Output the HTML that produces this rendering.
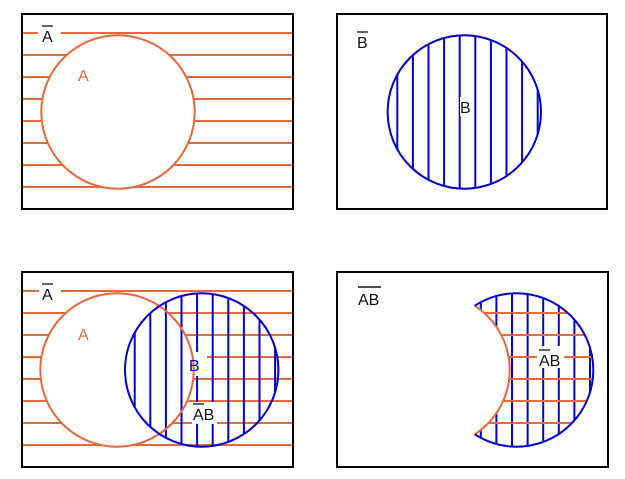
<!DOCTYPE html>
<html><head><meta charset="utf-8"><style>
html,body{margin:0;padding:0;background:#fff;}
svg{display:block;font-family:"Liberation Sans",sans-serif;}
</style></head><body>
<svg id="s" width="625" height="479" viewBox="0 0 625 479" xmlns="http://www.w3.org/2000/svg">
<defs>
<mask id="mTL"><rect x="0" y="0" width="625" height="479" fill="#fff"/><circle cx="118" cy="112" r="76.7" fill="#000"/><rect x="38" y="24" width="23" height="18" fill="#000"/></mask>
<mask id="mBL"><rect x="0" y="0" width="625" height="479" fill="#fff"/><circle cx="117" cy="370" r="76.7" fill="#000"/><rect x="39" y="282" width="22" height="18" fill="#000"/><rect x="187" y="352" width="20" height="24" fill="#000"/><rect x="192" y="402" width="25" height="22" fill="#000"/></mask>
<mask id="mBLv"><rect x="0" y="0" width="625" height="479" fill="#fff"/><rect x="187" y="352" width="20" height="24" fill="#000"/><rect x="192" y="402" width="25" height="22" fill="#000"/></mask>
<mask id="mBR"><rect x="0" y="0" width="625" height="479" fill="#fff"/><circle cx="433" cy="370" r="76.7" fill="#000"/><rect x="537" y="346" width="27" height="22" fill="#000"/></mask>
<mask id="mBRv"><rect x="0" y="0" width="625" height="479" fill="#fff"/><circle cx="433" cy="370" r="76.7" fill="#000"/><rect x="537" y="346" width="27" height="22" fill="#000"/></mask>
<mask id="mBRc"><rect x="0" y="0" width="625" height="479" fill="#fff"/><circle cx="433" cy="370" r="76.7" fill="#000"/></mask>
<clipPath id="cTR"><circle cx="464.3" cy="112" r="76.7"/></clipPath>
<clipPath id="cBL"><circle cx="201.7" cy="370" r="76.7"/></clipPath>
<clipPath id="cBR"><circle cx="516.6" cy="370" r="76.7"/></clipPath>
</defs>

<!-- Panel 1 -->
<g>
<g id="hTL" mask="url(#mTL)" stroke="#e8683d" stroke-width="2"></g>
<circle cx="118" cy="112" r="76.7" fill="none" stroke="#e8683d" stroke-width="2"/>
<rect x="22" y="14" width="271" height="195" fill="none" stroke="#000" stroke-width="2"/>
<text x="42" y="42" font-size="16" fill="#111">A</text>
<line x1="42" y1="26" x2="53" y2="26" stroke="#111" stroke-width="1.3"/>
<text x="78" y="81" font-size="16" fill="#e8683d">A</text>
</g>

<!-- Panel 2 -->
<g>
<g id="vTR" clip-path="url(#cTR)" stroke="#0000d0" stroke-width="2"></g>
<circle cx="464.3" cy="112" r="76.7" fill="none" stroke="#0000d0" stroke-width="2"/>
<rect x="337" y="14" width="270" height="195" fill="none" stroke="#000" stroke-width="2"/>
<text x="357" y="48" font-size="16" fill="#111">B</text>
<line x1="357" y1="32" x2="368" y2="32" stroke="#111" stroke-width="1.3"/>
<rect x="460" y="97" width="13" height="19" fill="#fff"/>
<text x="460" y="113" font-size="16" fill="#111">B</text>
</g>

<!-- Panel 3 -->
<g>
<g id="hBL" mask="url(#mBL)" stroke="#e8683d" stroke-width="2"></g>
<g mask="url(#mBLv)"><g id="vBL" clip-path="url(#cBL)" stroke="#0000d0" stroke-width="2"></g></g>
<circle cx="117" cy="370" r="76.7" fill="none" stroke="#e8683d" stroke-width="2"/>
<circle cx="201.7" cy="370" r="76.7" fill="none" stroke="#0000d0" stroke-width="2"/>
<rect x="22" y="272" width="271" height="195" fill="none" stroke="#000" stroke-width="2"/>
<text x="42" y="300" font-size="16" fill="#111">A</text>
<line x1="42" y1="284" x2="53" y2="284" stroke="#111" stroke-width="1.3"/>
<text x="78" y="340" font-size="16" fill="#e8683d">A</text>
<text x="189" y="371" font-size="16" fill="#0000d0">B</text>
<text x="193" y="420" font-size="16" fill="#111">AB</text>
<line x1="193" y1="404" x2="204" y2="404" stroke="#111" stroke-width="1.3"/>
</g>

<!-- Panel 4 -->
<g>
<g mask="url(#mBRv)"><g id="vBR" clip-path="url(#cBR)" stroke="#0000d0" stroke-width="2"></g></g>
<g mask="url(#mBR)"><g id="hBR" clip-path="url(#cBR)" stroke="#e8683d" stroke-width="2"></g></g>
<g clip-path="url(#cBR)"><circle cx="433" cy="370" r="76.7" fill="none" stroke="#e8683d" stroke-width="2"/></g>
<g mask="url(#mBRc)"><circle cx="516.6" cy="370" r="76.7" fill="none" stroke="#0000d0" stroke-width="2"/></g>
<rect x="337" y="272" width="271" height="195" fill="none" stroke="#000" stroke-width="2"/>
<text x="358" y="305" font-size="16" fill="#111">AB</text>
<line x1="358" y1="287" x2="381" y2="287" stroke="#111" stroke-width="1.6"/>
<text x="539" y="366" font-size="16" fill="#111">AB</text>
<line x1="539" y1="350" x2="550" y2="350" stroke="#111" stroke-width="1.3"/>
</g>
</svg>
<script>
const hRowsTop = [33, 55, 77, 99, 121, 143, 165, 187];
const hRowsBottom = [291, 313, 335, 357, 379, 401, 423, 445];
const hRowsCrescent = [313, 335, 357, 379, 401, 423];
const vOffsets = [-67, -51.4, -35.8, -20.2, -4.6, 11, 26.6, 42.2, 57.8, 73.4];
const NS = 'http://www.w3.org/2000/svg';
function ln(g, x1, y1, x2, y2) {
  const l = document.createElementNS(NS, 'line');
  l.setAttribute('x1', x1); l.setAttribute('y1', y1);
  l.setAttribute('x2', x2); l.setAttribute('y2', y2);
  
  
  g.appendChild(l);
}
hRowsTop.forEach(y => ln(document.getElementById('hTL'), 22, y, 293, y));
hRowsBottom.forEach(y => ln(document.getElementById('hBL'), 22, y, 293, y));
hRowsCrescent.forEach(y => ln(document.getElementById('hBR'), 337, y, 608, y));
vOffsets.forEach(d => ln(document.getElementById('vTR'), 464.3 + d, 30, 464.3 + d, 195));
vOffsets.forEach(d => ln(document.getElementById('vBL'), 201.7 + d, 288, 201.7 + d, 453));
vOffsets.forEach(d => ln(document.getElementById('vBR'), 516.6 + d, 288, 516.6 + d, 453));
</script>
</body></html>
